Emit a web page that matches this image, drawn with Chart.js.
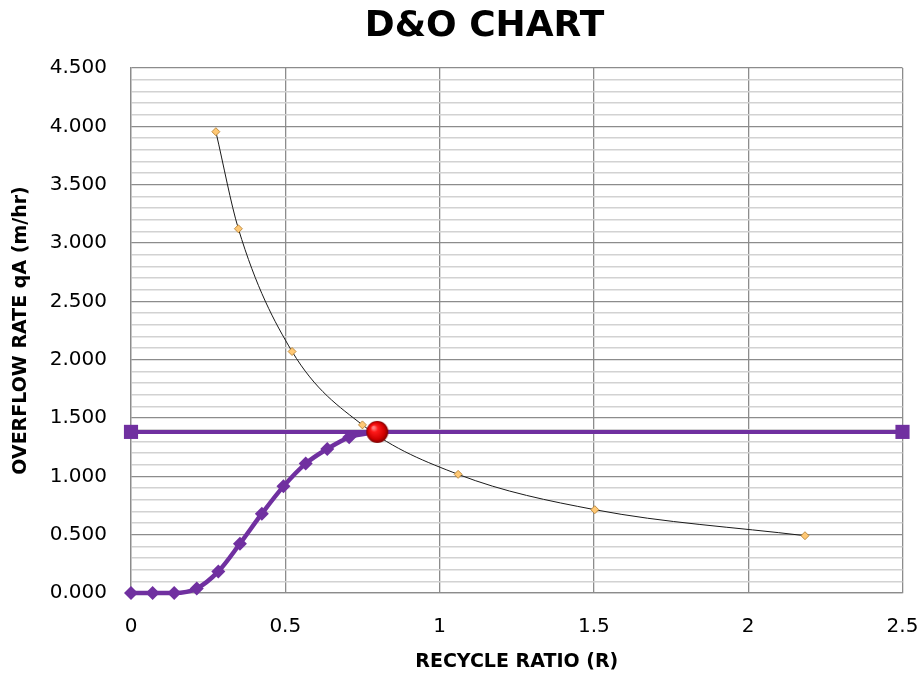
<!DOCTYPE html>
<html>
<head>
<meta charset="utf-8">
<title>D&amp;O Chart</title>
<script src="https://cdn.jsdelivr.net/npm/chart.js@4/dist/chart.umd.min.js"></script>
<style>
  html, body { margin: 0; padding: 0; background: #ffffff; }
  #wrap { position: relative; width: 918px; height: 675px; }
</style>
</head>
<body>
<div id="wrap"><canvas id="chart"></canvas></div>
<script>
// Operating curve: overflow rate against recycle ratio
const curveRatio = [0.275, 0.348, 0.522, 0.750, 1.060, 1.503, 2.184];
const curveRate  = [3.954, 3.122, 2.070, 1.441, 1.017, 0.714, 0.491];

// Solids flux curve (purple diamonds)
const fluxRatio = [0, 0.070, 0.140, 0.213, 0.283, 0.353, 0.424, 0.494, 0.566, 0.636, 0.707, 0.798];
const fluxRate  = [0, 0, 0, 0.039, 0.185, 0.423, 0.680, 0.914, 1.109, 1.235, 1.334, 1.381];

// Design overflow rate (horizontal line)
const designRatio = [0, 2.5];
const designRate  = [1.381, 1.381];

// Operating point
const opRatio = [0.798];
const opRate  = [1.381];

// Axis ticks
const xTicks = [0, 0.5, 1, 1.5, 2, 2.5];
const yMajorStep = 0.5;
const yMinorStep = 0.1;

const FONT = "'DejaVu Sans', 'Open Sans', sans-serif";
const PURPLE = '#7030A0';

function pairs(xs, ys) { return xs.map((x, i) => ({ x: x, y: ys[i] })); }
function isMajor(v) { return Math.abs(v / yMajorStep - Math.round(v / yMajorStep)) < 1e-6; }

// Shaded red sphere used as the operating-point marker
function makeBall(r) {
  const c = document.createElement('canvas');
  c.width = c.height = r * 2 + 2;
  const g = c.getContext('2d');
  const cx = r + 1, cy = r + 1;
  const grad = g.createRadialGradient(cx - r * 0.35, cy - r * 0.4, r * 0.1, cx, cy, r);
  grad.addColorStop(0, '#ff8080');
  grad.addColorStop(0.25, '#ff1a1a');
  grad.addColorStop(0.75, '#d00000');
  grad.addColorStop(1, '#7a0000');
  g.fillStyle = grad;
  g.beginPath();
  g.arc(cx, cy, r, 0, Math.PI * 2);
  g.fill();
  return c;
}
const ball = makeBall(11);

// Chart heading centred over the figure
const headingPlugin = {
  id: 'heading',
  afterDraw(chart) {
    const ctx = chart.ctx;
    ctx.save();
    ctx.font = "bold 36px " + FONT;
    ctx.fillStyle = '#000000';
    ctx.textAlign = 'center';
    ctx.textBaseline = 'alphabetic';
    ctx.fillText('D&O CHART', 484.5, 36);
    ctx.restore();
  }
};

new Chart(document.getElementById('chart'), {
  type: 'scatter',
  data: {
    datasets: [
      {
        label: 'Operating point',
        data: pairs(opRatio, opRate),
        pointStyle: ball,
        pointRadius: 11,
        pointHoverRadius: 11,
        showLine: false,
        clip: false,
        order: 0
      },
      {
        label: 'Flux curve',
        data: pairs(fluxRatio, fluxRate),
        showLine: true,
        borderColor: PURPLE,
        borderWidth: 4.5,
        backgroundColor: PURPLE,
        pointStyle: 'rectRot',
        pointRadius: 7,
        pointBorderWidth: 0,
        pointHoverRadius: 7,
        cubicInterpolationMode: 'monotone',
        clip: false,
        order: 1
      },
      {
        label: 'Design overflow rate',
        data: pairs(designRatio, designRate),
        showLine: true,
        borderColor: PURPLE,
        borderWidth: 4,
        backgroundColor: PURPLE,
        pointStyle: 'rect',
        pointRadius: 10,
        pointBorderWidth: 0,
        pointHoverRadius: 10,
        clip: false,
        order: 2
      },
      {
        label: 'Overflow rate',
        data: pairs(curveRatio, curveRate),
        showLine: true,
        borderColor: '#1a1a1a',
        borderWidth: 1,
        backgroundColor: '#ffc874',
        pointBorderColor: '#b07a2a',
        pointBorderWidth: 0.8,
        pointStyle: 'rectRot',
        pointRadius: 4,
        pointHoverRadius: 4,
        cubicInterpolationMode: 'monotone',
        clip: false,
        order: 3
      }
    ]
  },
  options: {
    responsive: true,
    maintainAspectRatio: false,
    animation: false,
    layout: { padding: { left: 0, right: 15.5, top: 68, bottom: 0 } },
    plugins: {
      legend: { display: false },
      title: { display: false },
      tooltip: { enabled: false }
    },
    scales: {
      x: {
        type: 'linear',
        min: 0,
        max: 2.5,
        afterBuildTicks(scale) { scale.ticks = xTicks.map(v => ({ value: v })); },
        afterFit(scale) {
          scale.height = 82;
          scale.paddingLeft = 0;
          scale.paddingRight = 0;
        },
        ticks: {
          autoSkip: false,
          padding: 22,
          color: '#000000',
          font: { family: FONT, size: 20 },
          callback: v => String(v)
        },
        grid: { color: '#8c8c8c', lineWidth: 1.3, drawTicks: false },
        border: { color: '#8c8c8c', width: 1.3 },
        title: {
          display: true,
          text: 'RECYCLE RATIO (R)',
          color: '#000000',
          font: { family: FONT, size: 19, weight: 'bold' },
          padding: { top: 0, bottom: 2 }
        }
      },
      y: {
        type: 'linear',
        min: 0,
        max: 4.5,
        afterFit(scale) { scale.width = 131; },
        ticks: {
          stepSize: yMinorStep,
          autoSkip: false,
          padding: 24,
          color: '#000000',
          font: { family: FONT, size: 20 },
          callback: v => isMajor(v) ? Number(v).toFixed(3) : ''
        },
        grid: {
          drawTicks: false,
          color: c => isMajor(c.tick.value) ? '#8c8c8c' : '#d2d2d2',
          lineWidth: c => isMajor(c.tick.value) ? 1.3 : 1.6
        },
        border: { color: '#8c8c8c', width: 1.3 },
        title: {
          display: true,
          text: 'OVERFLOW RATE qA (m/hr)',
          color: '#000000',
          font: { family: FONT, size: 19, weight: 'bold' },
          padding: { top: 10, bottom: 0 }
        }
      }
    }
  },
  plugins: [headingPlugin]
});
</script>
</body>
</html>
